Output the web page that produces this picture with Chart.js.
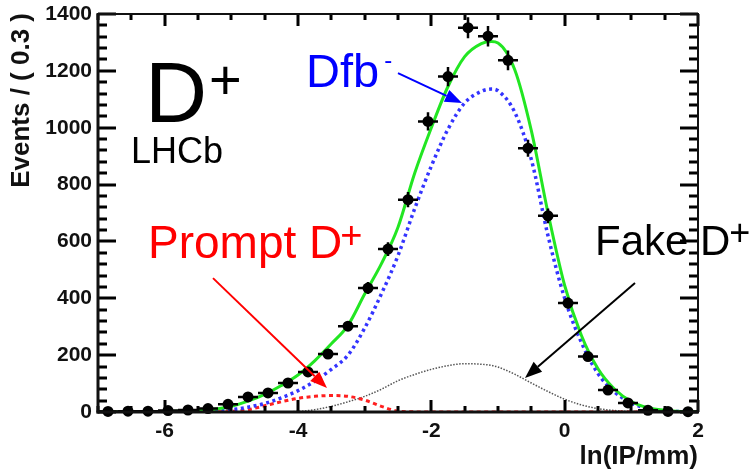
<!DOCTYPE html>
<html>
<head>
    <title>D+ ln(IP) fit</title>
    <style>
        body { margin: 0; background: #fff; }
        .chart-container { width: 753px; height: 472px; position: relative; }
    </style>
    <script src="https://cdn.jsdelivr.net/npm/chart.js"></script>
</head>
<body>
    <div class="chart-container">
        <canvas id="myChart"></canvas>
    </div>

    <script>
        // Data points: bin centres (bin width 0.3), counts and errors
        const binCenters = [-6.85, -6.55, -6.25, -5.95, -5.65, -5.35, -5.05, -4.75, -4.45, -4.15,
                            -3.85, -3.55, -3.25, -2.95, -2.65, -2.35, -2.05, -1.75, -1.45, -1.15,
                            -0.85, -0.55, -0.25, 0.05, 0.35, 0.65, 0.95, 1.25, 1.55, 1.85];
        const binCounts = [2, 3, 3, 5, 7, 12, 27, 53, 67, 102,
                           141, 204, 302, 436, 573, 747, 1022, 1180, 1352, 1322,
                           1237, 928, 690, 383, 195, 77, 32, 6, 2, 1];
        const binErrors = [1.5, 1.7, 1.7, 2.2, 2.6, 3.5, 5.2, 7.3, 8.2, 10,
                           12, 14, 17, 21, 24, 27, 32, 34, 37, 36,
                           35, 30, 26, 20, 14, 9, 6, 2.5, 1.5, 1];
        const binHalfWidth = 0.15;

        // Fit components sampled along ln(IP/mm)
        const curveX = [-7, -6.5, -6, -5.5, -5.25, -5, -4.75, -4.5, -4.25, -4,
                        -3.75, -3.5, -3.25, -3, -2.75, -2.5, -2.25, -2, -1.75, -1.5,
                        -1.25, -1.1, -1, -0.75, -0.5, -0.25, 0, 0.25, 0.5, 0.75,
                        1, 1.25, 1.5, 1.75, 2];
        const totalFit = [0.2, 0.5, 1.5, 5, 10, 20, 38, 62, 93, 130,
                          180, 240, 305, 415, 521, 650, 840, 1000, 1145, 1250,
                          1296, 1303, 1298, 1205, 990, 700, 445, 270, 152, 80,
                          37, 15, 6, 2, 1];
        const dfbFit = [0, 0, 0.5, 2, 4, 8, 17, 30, 50, 75,
                        108, 150, 200, 295, 415, 550, 715, 865, 995, 1087,
                        1128, 1136, 1130, 1055, 888, 620, 400, 245, 135, 70,
                        32, 12, 4, 1.5, 0.5];
        const promptFit = [0, 0, 0, 0, 0.5, 2, 8, 22, 36, 48,
                           55, 58, 55, 42, 20, 3, 0.5, 0, 0, 0,
                           0, 0, 0, 0, 0, 0, 0, 0, 0, 0,
                           0, 0, 0, 0, 0];
        const fakeFit = [0, 0, 0, 0, 0, 0, 0, 0, 0.5, 2,
                         8, 20, 36, 55, 80, 110, 132, 150, 163, 170,
                         168, 164, 158, 133, 102, 72, 45, 25, 12, 5,
                         2, 1, 0.3, 0, 0];

        const xTickLabels = [-6, -4, -2, 0, 2];
        const yTickLabels = [0, 200, 400, 600, 800, 1000, 1200, 1400];

        const FONT = "'Liberation Sans', Arial, Helvetica, sans-serif";

        const toPoints = ys => curveX.map((x, i) => ({ x: x, y: ys[i] }));

        function fitLine(ys, color, width, dash, order) {
            return {
                data: toPoints(ys),
                showLine: true,
                pointRadius: 0,
                borderColor: color,
                borderWidth: width,
                borderDash: dash,
                cubicInterpolationMode: 'monotone',
                fill: false,
                order: order
            };
        }

        // error bars under the markers
        const errorBars = {
            id: 'errorBars',
            beforeDatasetDraw(chart, args) {
                if (args.index !== 0) return;
                const { ctx, scales: { x, y } } = chart;
                ctx.save();
                ctx.setLineDash([]);
                ctx.strokeStyle = '#000';
                ctx.lineWidth = 2.5;
                ctx.beginPath();
                binCenters.forEach((c, i) => {
                    const px = x.getPixelForValue(c);
                    const py = y.getPixelForValue(binCounts[i]);
                    ctx.moveTo(x.getPixelForValue(c - binHalfWidth), py);
                    ctx.lineTo(x.getPixelForValue(c + binHalfWidth), py);
                    ctx.moveTo(px, y.getPixelForValue(binCounts[i] - binErrors[i]));
                    ctx.lineTo(px, y.getPixelForValue(binCounts[i] + binErrors[i]));
                });
                ctx.stroke();
                ctx.restore();
            }
        };

        // ROOT style frame with inward ticks
        const frame = {
            id: 'frame',
            afterDraw(chart) {
                const ctx = chart.ctx;
                const a = chart.chartArea;
                const sx = chart.scales.x, sy = chart.scales.y;
                ctx.save();
                ctx.setLineDash([]);
                ctx.fillStyle = '#000';
                // y ticks (left and right), every 40, major every 200
                for (let k = 0; k <= 35; k++) {
                    const py = Math.round(sy.getPixelForValue(k * 40));
                    const len = k % 5 === 0 ? 18 : 9;
                    ctx.fillRect(a.left, py - 1.5, len, 3);
                    ctx.fillRect(a.right - len, py - 1.5, len, 3);
                }
                // x ticks (bottom and top), every 0.5, major every 2
                for (let k = 0; k <= 18; k++) {
                    const px = Math.round(sx.getPixelForValue(-7 + k * 0.5));
                    const len = (k % 4 === 2) ? 12 : 6;
                    ctx.fillRect(px - 1.5, a.bottom - len, 3, len);
                    ctx.fillRect(px - 1.5, a.top, 3, len);
                }
                // frame
                ctx.fillStyle = '#111';
                ctx.fillRect(a.left - 1, a.top - 1, a.right - a.left + 2, 2);
                ctx.fillRect(a.right - 1, a.top - 1, 2, a.bottom - a.top + 2);
                ctx.fillRect(a.left - 1.5, a.top - 1, 3, a.bottom - a.top + 2.5);
                ctx.fillRect(a.left - 1.5, a.bottom - 1.5, a.right - a.left + 2.5, 3);

                // axis titles
                ctx.font = 'bold 26px ' + FONT;
                ctx.textAlign = 'right';
                ctx.textBaseline = 'alphabetic';
                ctx.fillText('ln(IP/mm)', a.right, 464);
                ctx.translate(22, a.top - 1);
                ctx.rotate(-Math.PI / 2);
                ctx.textBaseline = 'middle';
                ctx.fillText('Events / ( 0.3 )', 0, 0);
                ctx.restore();
            }
        };

        // labels and arrows, anchored in data coordinates
        const texts = [
            { text: 'D', sup: '+', x: -6.295, y: 1020, size: 86, supSize: 56, dx: 2, rise: 23, color: '#000' },
            { text: 'LHCb', x: -6.505, y: 876, size: 36, color: '#000' },
            { text: 'Dfb', sup: '-', x: -3.88, y: 1143, size: 47, supSize: 24, dx: 5, rise: 19, color: '#0000ff' },
            { text: 'Prompt D', sup: '+', x: -6.25, y: 542, size: 46, supSize: 38, dx: -2, rise: 10, color: '#ff0000' },
            { text: 'Fake D', sup: '+', x: 0.455, y: 552, size: 42, supSize: 36, dx: -1, rise: 10, color: '#000' }
        ];
        const arrows = [
            { from: [-2.5, 1192], to: [-1.54, 1087], color: '#0000ff' },
            { from: [-5.275, 471], to: [-3.565, 84], color: '#ff0000' },
            { from: [1.055, 454], to: [-0.595, 120], color: '#000' }
        ];

        const annotations = {
            id: 'annotations',
            afterDraw(chart) {
                const { ctx, scales: { x, y } } = chart;
                ctx.save();
                ctx.setLineDash([]);
                ctx.textAlign = 'left';
                ctx.textBaseline = 'alphabetic';
                texts.forEach(t => {
                    const px = x.getPixelForValue(t.x), py = y.getPixelForValue(t.y);
                    ctx.fillStyle = t.color;
                    ctx.font = t.size + 'px ' + FONT;
                    ctx.fillText(t.text, px, py);
                    if (t.sup) {
                        const w = ctx.measureText(t.text).width;
                        ctx.font = t.supSize + 'px ' + FONT;
                        ctx.fillText(t.sup, px + w + t.dx, py - t.rise);
                    }
                });
                arrows.forEach(ar => {
                    const x1 = x.getPixelForValue(ar.from[0]), y1 = y.getPixelForValue(ar.from[1]);
                    const x2 = x.getPixelForValue(ar.to[0]), y2 = y.getPixelForValue(ar.to[1]);
                    const ang = Math.atan2(y2 - y1, x2 - x1), head = 17, half = 6.5;
                    const c = Math.cos(ang), s = Math.sin(ang);
                    ctx.strokeStyle = ar.color;
                    ctx.fillStyle = ar.color;
                    ctx.lineWidth = 2;
                    ctx.beginPath();
                    ctx.moveTo(x1, y1);
                    ctx.lineTo(x2 - head * c, y2 - head * s);
                    ctx.stroke();
                    ctx.beginPath();
                    ctx.moveTo(x2, y2);
                    ctx.lineTo(x2 - head * c + half * s, y2 - head * s - half * c);
                    ctx.lineTo(x2 - head * c - half * s, y2 - head * s + half * c);
                    ctx.closePath();
                    ctx.fill();
                });
                ctx.restore();
            }
        };

        const tickFont = { family: FONT, size: 21, weight: 'bold' };

        const ctx = document.getElementById('myChart').getContext('2d');
        const myChart = new Chart(ctx, {
            type: 'scatter',
            data: {
                datasets: [
                    {
                        data: binCenters.map((c, i) => ({ x: c, y: binCounts[i] })),
                        pointRadius: 5.5,
                        pointBackgroundColor: '#000',
                        pointBorderWidth: 0,
                        clip: false,
                        order: 0
                    },
                    fitLine(totalFit, '#22e622', 3, [], 1),
                    fitLine(dfbFit, '#3434ff', 3.5, [3, 3.5], 2),
                    fitLine(promptFit, '#ff2020', 3, [4, 3.5], 3),
                    fitLine(fakeFit, '#555', 1.5, [1.5, 1.5], 4)
                ]
            },
            options: {
                responsive: true,
                maintainAspectRatio: false,
                animation: false,
                layout: { padding: { top: 14, right: 55, left: 0, bottom: 0 } },
                plugins: { legend: { display: false }, tooltip: { enabled: false } },
                scales: {
                    x: {
                        type: 'linear',
                        min: -7,
                        max: 2,
                        afterBuildTicks: s => { s.ticks = xTickLabels.map(v => ({ value: v })); },
                        afterFit: s => { s.height = 60; s.paddingLeft = 0; s.paddingRight = 0; },
                        grid: { display: false, drawTicks: false, tickLength: 0 },
                        border: { display: false },
                        ticks: { font: tickFont, color: '#111', padding: 7, maxRotation: 0, autoSkip: false,
                                 callback: v => String(v) }
                    },
                    y: {
                        min: 0,
                        max: 1400,
                        afterBuildTicks: s => { s.ticks = yTickLabels.map(v => ({ value: v })); },
                        afterFit: s => { s.width = 98; s.paddingTop = 0; s.paddingBottom = 0; },
                        grid: { display: false, drawTicks: false, tickLength: 0 },
                        border: { display: false },
                        ticks: { font: tickFont, color: '#111', padding: 6, autoSkip: false,
                                 callback: v => String(v) }
                    }
                }
            },
            plugins: [errorBars, frame, annotations]
        });
    </script>
</body>
</html>
